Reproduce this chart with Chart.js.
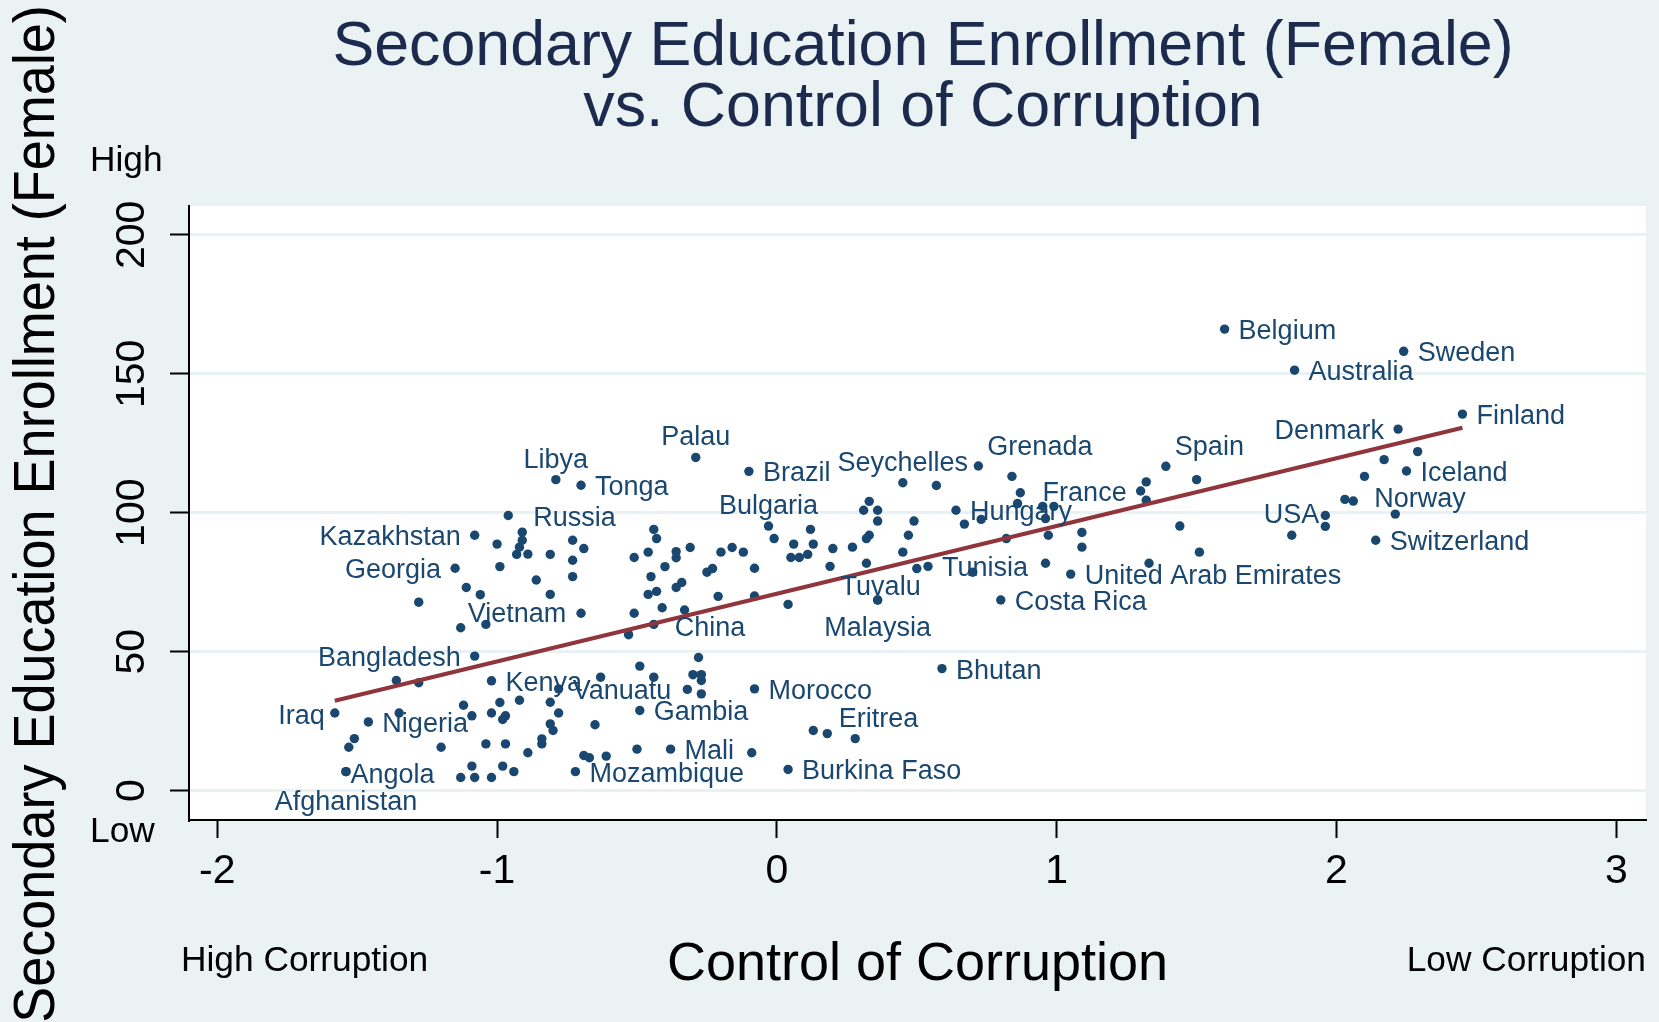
<!DOCTYPE html>
<html>
<head>
<meta charset="utf-8">
<title>Secondary Education Enrollment (Female) vs. Control of Corruption</title>
<script src="https://cdn.jsdelivr.net/npm/chart.js"></script>
<style>
  html, body { margin: 0; padding: 0; background: #eaf2f3; }
  #wrap { width: 1659px; height: 1022px; }
</style>
</head>
<body>
<div id="wrap"><canvas id="chart" width="1659" height="1022"></canvas></div>
<script>
// data (x = control of corruption, y = female secondary enrollment)
const countries = [
  "Belgium", "Sweden", "Australia", "Finland", "Denmark", "Iceland", "Norway", "USA",
  "Switzerland", "Spain", "France", "United Arab Emirates", "Costa Rica", "Grenada",
  "Hungary", "Tunisia", "Seychelles", "Tuvalu", "Malaysia", "Bhutan", "Eritrea",
  "Burkina Faso", "Morocco", "Bulgaria", "Brazil", "Palau", "China", "Gambia", "Mali",
  "Mozambique", "Vanuatu", "Tonga", "Libya", "Russia", "Kazakhstan", "Georgia",
  "Vietnam", "Bangladesh", "Kenya", "Iraq", "Nigeria", "Angola", "Afghanistan"
];
const control = [
  1.60, 2.24, 1.85, 2.45, 2.22, 2.25, 2.06, 1.96,
  2.14, 1.39, 1.30, 1.05, 0.80, 0.72,
  0.64, 0.54, 0.45, 0.36, 0.36, 0.59, 0.18,
  0.04, -0.08, -0.03, -0.10, -0.29, -0.44, -0.49, -0.38,
  -0.72, -0.78, -0.70, -0.79, -0.91, -1.08, -1.15,
  -1.13, -1.08, -1.02, -1.58, -1.46, -1.54, -1.54
];
const enrollment = [
  166.1, 158.1, 151.3, 135.5, 130.1, 115.0, 104.2, 99.0,
  90.1, 116.7, 107.8, 77.9, 68.6, 116.8,
  100.9, 80.7, 110.8, 68.6, 68.6, 43.9, 20.5,
  7.6, 36.6, 95.2, 114.9, 119.9, 59.8, 28.8, 14.9,
  6.8, 36.6, 109.9, 111.9, 93.0, 91.9, 80.0,
  58.6, 48.4, 39.5, 27.9, 24.7, 6.8, 6.8
];

// the unlabelled countries
const otherControl = [
  -0.96, -1.00, -0.91, -0.92, -0.93, -0.89, -0.81, -0.73, -0.69, -0.73, -0.73, -0.81,
  -0.86, -0.99, -1.11, -1.06, -1.28, -1.04, -0.70, -0.44, -0.43, -0.51, -0.46, -0.36,
  -0.36, -0.31, -0.20, -0.16, -0.12, -0.40, -0.45, -0.34, -0.36, -0.25, -0.23, -0.43,
  -0.46, -0.21, -0.51, -0.41, -0.33, -0.53, -0.28, -0.49,
  -1.36, -1.28, -1.35, -1.51, -1.53, -1.20, -1.12, -1.09, -0.99, -1.02, -0.97, -0.98,
  -0.92, -1.04, -0.97, -1.09, -1.13, -1.08, -1.02, -0.98, -0.94, -0.89, -0.84, -0.84,
  -0.81, -0.78, -0.81, -0.80, -0.65, -0.63, -0.69, -0.67, -0.61, -0.50, -0.44, -0.30,
  -0.27, -0.27, -0.32, -0.27,
  0.84, 0.87, 0.86, 0.95, 0.99, 0.96, 0.97, 0.67, 0.73, 1.32, 1.32, 1.09,
  1.09, 0.96, 0.50, 0.70, 0.82, 0.57, 0.33, 0.31, 0.36, 0.36, 0.49, 0.47,
  0.33, 0.32, 0.45, 0.32, 0.27, 0.20, 0.19, 0.13, 0.12, 0.06, 0.11, 0.08,
  0.05, -0.01, -0.08, -0.08, 0.04,
  -0.09, 0.13, 0.28,
  1.50, 1.44, 1.51, 1.33, 1.84, 1.96, 2.03, 2.21, 2.10, 2.17, 2.29
];
const otherEnrollment = [
  99.0, 88.7, 90.1, 87.6, 85.0, 85.1, 85.0, 90.1, 87.1, 82.9, 77.0, 70.6,
  75.8, 80.6, 73.1, 70.5, 67.8, 59.8, 63.8, 94.0, 90.7, 83.9, 85.8, 86.0,
  83.8, 87.5, 85.8, 87.5, 85.8, 80.6, 77.0, 74.9, 73.1, 78.6, 79.9, 71.7,
  70.6, 69.9, 63.8, 65.8, 65.0, 56.1, 47.9, 44.8,
  39.6, 38.8, 27.9, 18.7, 15.6, 15.6, 30.7, 26.9, 31.7, 27.9, 26.9, 25.6,
  32.5, 16.8, 16.8, 8.8, 4.7, 4.7, 4.7, 8.8, 6.8, 13.6, 16.8, 18.6,
  31.8, 27.9, 24.0, 21.6, 23.7, 40.8, 12.6, 11.8, 12.4, 14.9, 40.8, 41.7,
  41.7, 39.6, 36.4, 34.8,
  113.1, 107.2, 103.3, 102.3, 102.3, 97.9, 91.9, 95.9, 97.6, 111.1, 104.5, 92.9,
  87.6, 81.8, 79.9, 78.6, 90.7, 109.8, 104.1, 100.9, 100.9, 97.0, 97.0, 91.9,
  91.9, 90.7, 85.8, 81.8, 87.6, 87.1, 80.7, 88.7, 94.0, 88.7, 85.0, 83.9,
  83.9, 90.7, 80.0, 70.0, 67.0,
  13.6, 21.6, 18.7,
  111.9, 95.2, 85.8, 81.8, 91.9, 95.1, 104.8, 99.5, 113.1, 119.1, 122.0
];

// linear fit line, end points
const fitX = [-1.58, 2.45];
const fitY = [32.3, 130.6];

const xTicks = [-2, -1, 0, 1, 2, 3];
const yTicks = [0, 50, 100, 150, 200];

// where each marker label sits relative to its dot (Stata style clock positions)
const clockSpots = {
  3: ["left", 14, 2.5],
  9: ["right", -14, 2.5],
  12: ["center", 0, -19.5],
  6: ["center", 0, 28.5],
  1: ["left", 9, -18.5]
};
const labelSpots = {
  Denmark: 9, France: 9, Kazakhstan: 9, Georgia: 9, Bangladesh: 9,
  Iraq: ["right", -10, 3.5], USA: ["right", -6, 0.5],
  Libya: 12, Palau: 12, Seychelles: 12, Bulgaria: 12,
  Tuvalu: ["center", 3, -12], Malaysia: 6, Afghanistan: ["center", 0, 30.5],
  Grenada: 1, Spain: 1,
  Russia: ["left", 11, -14], Vietnam: ["left", 7, -13], Eritrea: ["left", 11.5, -14],
  China: ["left", 21, 4.5], Norway: ["left", 21, -1.5], Angola: ["left", 4.5, 3.5]
};

const FONT = '"Liberation Sans", Arial, Helvetica, sans-serif';
const NAVY = "#1a476f";

const points = control.map((x, i) => ({ x: x, y: enrollment[i] }))
  .concat(otherControl.map((x, i) => ({ x: x, y: otherEnrollment[i] })));

// paint the bluish background and the white plot region
const backdrop = {
  id: "backdrop",
  beforeDraw(chart) {
    const c = chart.ctx;
    const a = chart.chartArea;
    c.save();
    c.fillStyle = "#eaf2f3";
    c.fillRect(0, 0, chart.width, chart.height);
    c.fillStyle = "#ffffff";
    c.fillRect(a.left, a.top, a.right - a.left, a.bottom - a.top);
    c.restore();
  }
};

// marker labels, titles and tick labels
const texts = {
  id: "texts",
  afterDatasetsDraw(chart) {
    const c = chart.ctx;
    const meta = chart.getDatasetMeta(1);
    c.save();
    c.font = "27px " + FONT;
    c.fillStyle = NAVY;
    c.textBaseline = "middle";
    countries.forEach((name, i) => {
      const el = meta.data[i];
      let spot = labelSpots[name] || 3;
      if (typeof spot === "number") spot = clockSpots[spot];
      c.textAlign = spot[0];
      c.fillText(name, el.x + spot[1], el.y + spot[2]);
    });
    c.restore();
  },
  afterDraw(chart) {
    const c = chart.ctx;
    const xs = chart.scales.x;
    const ys = chart.scales.y;
    const a = chart.chartArea;
    c.save();
    c.textBaseline = "middle";

    // title
    c.fillStyle = "#1c2a4e";
    c.textAlign = "center";
    c.font = "62.7px " + FONT;
    c.fillText("Secondary Education Enrollment (Female)", 923, 47.5);
    c.fillText("vs. Control of Corruption", 923, 109);

    c.fillStyle = "#000";
    // x tick labels
    c.font = "41px " + FONT;
    xs.ticks.forEach(t => c.fillText(String(t.value), xs.getPixelForValue(t.value), 872));
    // y tick labels, turned
    yTicks.forEach(v => {
      c.save();
      c.translate(132.5, ys.getPixelForValue(v));
      c.rotate(-Math.PI / 2);
      c.fillText(String(v), 0, 0);
      c.restore();
    });

    // axis titles
    c.font = "54px " + FONT;
    c.fillText("Control of Corruption", (a.left + a.right) / 2, 965);
    c.save();
    c.translate(38.5, 514);
    c.rotate(-Math.PI / 2);
    c.scale(1, 1.05);
    c.font = "54px " + FONT;
    c.fillText("Secondary Education Enrollment (Female)", 0, 0);
    c.restore();

    // end notes
    c.font = "35.3px " + FONT;
    c.textAlign = "left";
    c.fillText("High Corruption", 181, 961);
    c.fillText("High", 90, 161);
    c.fillText("Low", 90, 832);
    c.textAlign = "right";
    c.fillText("Low Corruption", 1646, 961);
    c.restore();
  }
};

const ctx = document.getElementById("chart").getContext("2d");
new Chart(ctx, {
  type: "scatter",
  data: {
    datasets: [
      {
        data: fitX.map((x, i) => ({ x: x, y: fitY[i] })),
        showLine: true,
        borderColor: "#90353b",
        borderWidth: 4,
        pointRadius: 0,
        fill: false
      },
      {
        data: points,
        backgroundColor: NAVY,
        borderColor: NAVY,
        borderWidth: 0,
        pointRadius: 4.7
      }
    ]
  },
  options: {
    responsive: false,
    animation: false,
    devicePixelRatio: 1,
    events: [],
    layout: { padding: { left: 0, top: 206, right: 13, bottom: 0 } },
    plugins: {
      legend: { display: false },
      title: { display: false },
      tooltip: { enabled: false }
    },
    scales: {
      x: {
        type: "linear",
        min: -2.101,
        max: 3.106,
        afterBuildTicks: (s) => { s.ticks = xTicks.map(v => ({ value: v })); },
        afterFit: (s) => { s.height = 202; },
        ticks: { display: false },
        grid: { drawOnChartArea: false, drawTicks: true, tickLength: 18, tickColor: "#000", tickWidth: 2 },
        border: { display: true, color: "#000", width: 2 }
      },
      y: {
        type: "linear",
        min: -10.6,
        max: 210.4,
        afterBuildTicks: (s) => { s.ticks = yTicks.map(v => ({ value: v })); },
        afterFit: (s) => { s.width = 189; },
        ticks: { display: false },
        grid: { color: "#e8f1f3", lineWidth: 3, drawTicks: true, tickLength: 19, tickColor: "#000", tickWidth: 2 },
        border: { display: true, color: "#000", width: 2 }
      }
    }
  },
  plugins: [backdrop, texts]
});
</script>
</body>
</html>
